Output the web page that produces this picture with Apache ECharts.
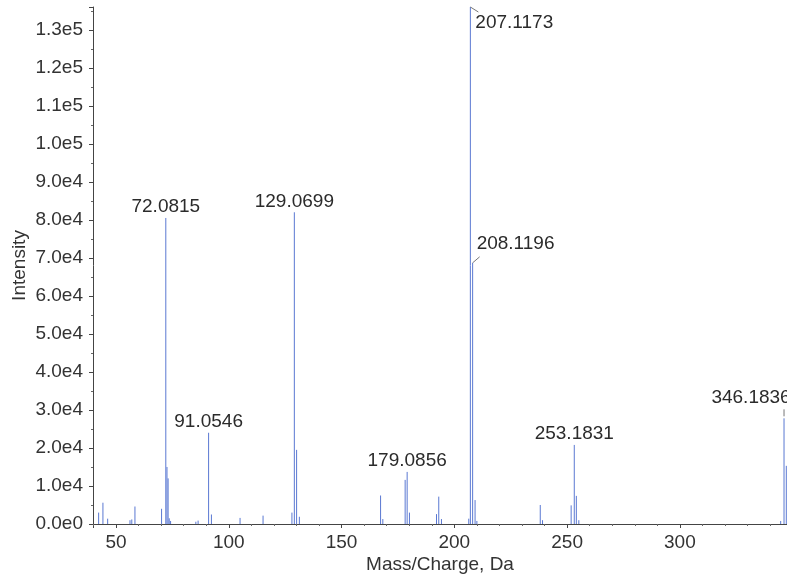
<!DOCTYPE html>
<html><head><meta charset="utf-8">
<script src="https://cdn.jsdelivr.net/npm/echarts@6/dist/echarts.min.js"></script>
<style>html,body{margin:0;padding:0;background:#fff}#c{width:787px;height:575px}</style>
</head><body><div id="c"></div>
<script>
// m/z of each peak
const peakMz = [42.3, 44.2, 46.3, 56.2, 57.0, 58.4, 70.2, 72.0815, 72.6, 73.1, 73.6, 74.2,
  85.4, 86.4, 91.0546, 92.3, 105.0, 115.2, 128.0, 129.0699, 130.07, 131.3,
  167.3, 168.3, 178.2, 179.0856, 180.1, 192.1, 193.1, 194.3,
  206.4, 207.1173, 208.1196, 209.2, 210.0, 238.1, 239.1,
  251.8, 253.1831, 254.1, 255.2, 344.7, 346.1836, 347.19];
// intensity of each peak
const peakIntensity = [3000, 5600, 1400, 1000, 1200, 4600, 4000, 80500, 15000, 12000, 1500, 800,
  600, 900, 24000, 2500, 1600, 2200, 3000, 82000, 19500, 1900,
  7500, 1300, 11600, 13700, 3000, 2600, 7200, 1300,
  1400, 136000, 68700, 6300, 800, 5000, 1000,
  4900, 20800, 7400, 1000, 800, 27800, 15300];
// annotated peaks
const labelledMz = ['72.0815', '91.0546', '129.0699', '179.0856', '207.1173', '208.1196', '253.1831', '346.1836'];

const xMin = 39.8, xMax = 347.5, yMax = 136000;

// placement style per label (code-level, not data)
const labelPlacement = { '207.1173': 'right-down', '208.1196': 'right-up', '346.1836': 'above-shift' };

const peakData = peakMz.map((m, i) => [m, peakIntensity[i]]);
const labelData = labelledMz.map(s => {
  const m = parseFloat(s);
  const i = peakMz.indexOf(m);
  return [m, peakIntensity[i], s];
});

const FONT = 'Liberation Sans';
const chart = echarts.init(document.getElementById('c'), null, { renderer: 'canvas' });
chart.setOption({
  animation: false,
  backgroundColor: '#fff',
  grid: { left: 93, top: 7, right: 0, bottom: 51, containLabel: false, outerBoundsMode: 'none' },
  xAxis: {
    type: 'value', min: xMin, max: xMax, splitNumber: 6,
    name: 'Mass/Charge, Da', nameLocation: 'middle', nameGap: 31, nameMoveOverlap: false,
    nameTextStyle: { fontFamily: FONT, fontSize: 19, color: '#333' },
    axisLine: { show: true, lineStyle: { color: '#444', width: 1 } },
    axisTick: { show: true, length: 4, lineStyle: { color: '#444' } },
    minorTick: { show: true, splitNumber: 5, length: 2, lineStyle: { color: '#666' } },
    axisLabel: { fontFamily: FONT, fontSize: 19, color: '#333', margin: 9, showMinLabel: false, showMaxLabel: false },
    splitLine: { show: false }
  },
  yAxis: {
    type: 'value', min: 0, max: yMax, interval: 10000,
    name: 'Intensity', nameLocation: 'middle', nameGap: 64, nameMoveOverlap: false,
    nameTextStyle: { fontFamily: FONT, fontSize: 19, color: '#333' },
    axisLine: { show: true, lineStyle: { color: '#444', width: 1 } },
    axisTick: { show: true, length: 4, lineStyle: { color: '#444' } },
    minorTick: { show: true, splitNumber: 2, length: 2, lineStyle: { color: '#666' } },
    axisLabel: {
      fontFamily: FONT, fontSize: 19, color: '#333', margin: 10, showMaxLabel: false,
      formatter: v => (v % 10000 === 0) ? v.toExponential(1).replace('+', '') : ''
    },
    splitLine: { show: false }
  },
  series: [
    {
      type: 'custom',
      data: peakData,
      clip: true,
      renderItem: (params, api) => {
        const x = api.value(0), y = api.value(1);
        const p0 = api.coord([x, 0]);
        const p1 = api.coord([x, y]);
        return { type: 'line', shape: { x1: p0[0], y1: p0[1], x2: p1[0], y2: p1[1] },
          style: { stroke: '#5a78d2', lineWidth: 1 } };
      }
    },
    {
      type: 'custom',
      data: labelData,
      clip: false,
      renderItem: (params, api) => {
        const x = api.value(0), y = api.value(1);
        const s = labelData[params.dataIndex][2];
        const p = api.coord([x, y]);
        const px = p[0];
        const place = labelPlacement[s];
        const txt = (tx, ty, align, va) => ({ type: 'text', style: { text: s, x: tx, y: ty, align: align, verticalAlign: va,
          fontFamily: FONT, fontSize: 19, fill: '#2b2b2b' } });
        const ln = (x1, y1, x2, y2) => ({ type: 'line', shape: { x1, y1, x2, y2 }, style: { stroke: '#777', lineWidth: 1 } });
        let children;
        if (place === 'right-down') {
          children = [ln(px, p[1], px + 8, p[1] + 5), txt(px + 5, p[1] + 16, 'left', 'middle')];
        } else if (place === 'right-up') {
          children = [ln(px, p[1], px + 7, p[1] - 6), txt(px + 4, p[1] - 19, 'left', 'middle')];
        } else if (place === 'above-shift') {
          children = [ln(px, p[1] - 2, px, p[1] - 9), txt(px - 33, p[1] - 21, 'center', 'middle')];
        } else {
          children = [txt(px, p[1] - 11, 'center', 'middle')];
        }
        return { type: 'group', children };
      }
    }
  ]
});
</script></body></html>
